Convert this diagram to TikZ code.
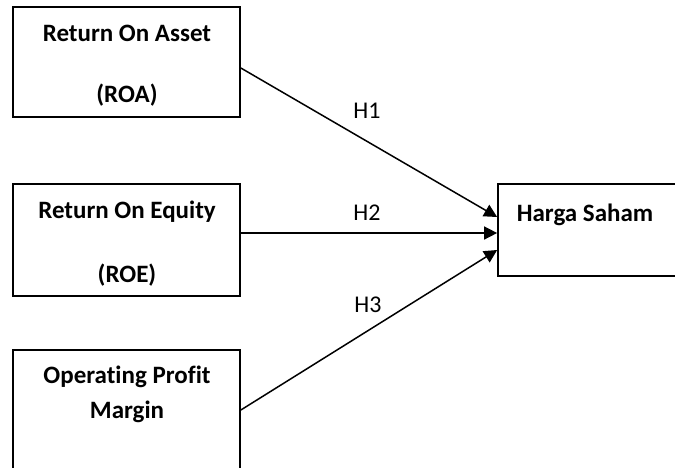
\documentclass[tikz,border=0pt]{standalone}
\usepackage{fontspec}
\setmainfont{Carlito}[Ligatures=CommonOff]
\usetikzlibrary{arrows.meta}
\begin{document}
\begin{tikzpicture}[x=1pt,y=-1pt,
  box/.style={draw,line width=1.7pt,minimum width=227pt,inner sep=0pt},
  lbl/.style={font=\fontsize{25}{30}\selectfont\bfseries,inner sep=0pt},
  hyp/.style={font=\fontsize{24}{29}\selectfont,inner sep=0pt},
  conn/.style={line width=1.5pt,-{Triangle[length=13pt,width=13pt]}}]
\useasboundingbox (0,0) rectangle (675,467);
\clip (0,0) rectangle (675,467);
\node[box,minimum height=110pt] (roa) at (126.5,62) {};
\node[box,minimum height=112pt] (roe) at (126.5,240) {};
\node[box,minimum height=170pt] (opm) at (126.5,435) {};
\node[box,minimum width=210pt,minimum height=92pt] (hs) at (603,230) {};
\node[lbl] (t1a) at (127,33) {Return On Asset};
\node[lbl] (t1b) at (127,95) {(ROA)};
\node[lbl] (t2a) at (127,212) {Return On Equity};
\node[lbl] (t2b) at (127,275) {(ROE)};
\node[lbl] (t3a) at (127,377) {Operating Profit};
\node[lbl] (t3b) at (127,412) {Margin};
\node[lbl] (t3c) at (127,480) {(OPM)};
\node[lbl] (t4) at (585,215) {Harga Saham};
\draw[conn] ([yshift=-6pt]roa.east) -- ([yshift=13pt]hs.west);
\draw[conn] ([yshift=7pt]roe.east) coordinate (s2) -- (s2 -| hs.west);
\draw[conn] ([yshift=25pt]opm.east) -- ([yshift=-20pt]hs.west);
\node[hyp] (h1) at (367,111) {H1};
\node[hyp] (h2) at (367,213) {H2};
\node[hyp] (h3) at (368,305) {H3};
\end{tikzpicture}
\end{document}
